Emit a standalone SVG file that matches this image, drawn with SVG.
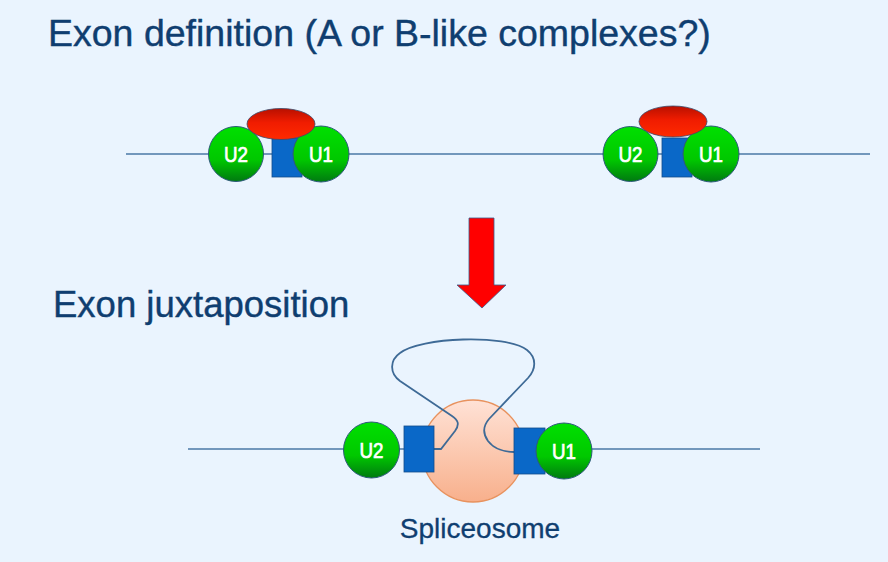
<svg xmlns="http://www.w3.org/2000/svg" width="888" height="562" viewBox="0 0 888 562">
<defs>
<linearGradient id="gGreen" x1="0" y1="0" x2="0" y2="1">
<stop offset="0" stop-color="#00e000"/>
<stop offset="0.6" stop-color="#00c800"/>
<stop offset="1" stop-color="#007a10"/>
</linearGradient>
<linearGradient id="gRed" x1="0" y1="0" x2="0" y2="1">
<stop offset="0" stop-color="#b81000"/>
<stop offset="0.45" stop-color="#f01c00"/>
<stop offset="1" stop-color="#ff2a00"/>
</linearGradient>
<linearGradient id="gPeach" x1="0" y1="0" x2="0" y2="1">
<stop offset="0" stop-color="#ffe2d6"/>
<stop offset="1" stop-color="#f8b08c"/>
</linearGradient>
</defs>
<style>
.bg{fill:#eaf4fe}
.strand{fill:none;stroke:#4a78a6;stroke-width:1.6}
.loop{fill:none;stroke:#3e6a96;stroke-width:1.8}
.snrnp{fill:url(#gGreen);stroke:#2d5a7a;stroke-width:1}
.box{fill:#0a68c8;stroke:#124d8a;stroke-width:0.8}
.cap{fill:url(#gRed);stroke:#3a4a6a;stroke-width:0.8}
.lbl{font-family:"Liberation Sans",Arial,sans-serif;font-size:22px;fill:#ffffff;stroke:#ffffff;stroke-width:0.7;text-anchor:middle}
.title{font-family:"Liberation Sans",Arial,sans-serif;fill:#0f3e70;stroke:#0f3e70;stroke-width:0.4}
</style>
<rect class="bg" x="0" y="0" width="888" height="562"/>

<text class="title" x="48" y="46" font-size="37.5">Exon definition (A or B-like complexes?)</text>
<text class="title" x="53" y="317" font-size="36.5">Exon juxtaposition</text>

<g id="connectors">
<line class="strand" x1="126" y1="154" x2="870" y2="154"/>
<line class="strand" x1="188" y1="449" x2="760" y2="449"/>
</g>

<g id="complex-left">
<rect class="box" x="272" y="138" width="30" height="39"/>
<circle class="snrnp" cx="236" cy="154" r="27.5"/>
<circle class="snrnp" cx="321" cy="154" r="28"/>
<ellipse class="cap" cx="281" cy="124" rx="34" ry="15.5"/>
<text class="lbl" x="236" y="162" textLength="24" lengthAdjust="spacingAndGlyphs">U2</text>
<text class="lbl" x="321" y="162" textLength="24" lengthAdjust="spacingAndGlyphs">U1</text>
</g>

<g id="complex-right">
<rect class="box" x="662" y="138" width="30" height="39"/>
<circle class="snrnp" cx="630.5" cy="154" r="27.5"/>
<circle class="snrnp" cx="711" cy="154" r="28"/>
<ellipse class="cap" cx="673" cy="121.5" rx="34" ry="15.5"/>
<text class="lbl" x="630.5" y="162" textLength="24" lengthAdjust="spacingAndGlyphs">U2</text>
<text class="lbl" x="711" y="162" textLength="24" lengthAdjust="spacingAndGlyphs">U1</text>
</g>

<g id="arrow">
<polygon points="469,218 494,218 494,285 506,285 482,308 457,285 469,285" fill="#ff0000" stroke="#3a5a8a" stroke-width="0.8"/>
</g>

<g id="spliceosome">
<circle cx="473" cy="451" r="51" fill="url(#gPeach)" stroke="#e8925e" stroke-width="1.3"/>
<path class="loop" d="M434,449 L441,449 L455,431 C460,424 458,420 452,416 L400,381 C389,373 390,360 400,353 C420,337 506,334 527,350 C537,358 536,369 528,378 L489,419 C483,426 483,434 488,441 C494,449 505,452 514,452"/>
<text x="480" y="538" font-family="Liberation Sans, Arial, sans-serif" font-size="28" fill="#0f3e70" stroke="#0f3e70" stroke-width="0.3" text-anchor="middle">Spliceosome</text>
</g>

<g id="exon-left">
<rect class="box" x="404" y="426" width="30" height="46"/>
<circle class="snrnp" cx="371.5" cy="450" r="28"/>
<text class="lbl" x="371.5" y="458" textLength="24" lengthAdjust="spacingAndGlyphs">U2</text>
</g>

<g id="exon-right">
<rect class="box" x="514" y="428" width="31" height="46"/>
<circle class="snrnp" cx="564" cy="451" r="28"/>
<text class="lbl" x="564" y="459" textLength="24" lengthAdjust="spacingAndGlyphs">U1</text>
</g>
</svg>
